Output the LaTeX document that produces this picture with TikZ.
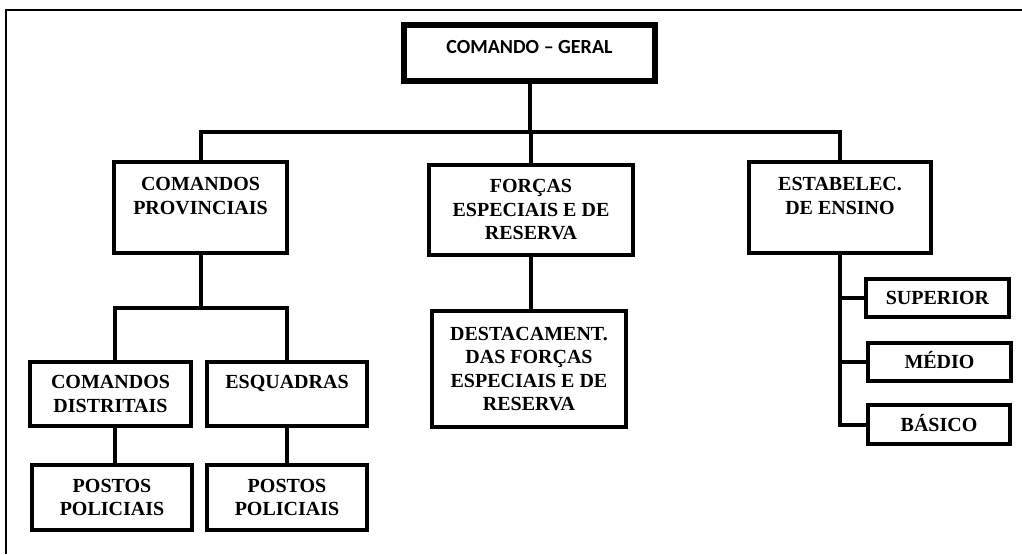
\documentclass[tikz,border=0pt]{standalone}
\usepackage{fontspec}
\setmainfont{Liberation Serif}
\newfontfamily\calib{Carlito}
\begin{document}
\begin{tikzpicture}[x=1pt,y=-1pt,
  box/.style={draw, line width=4.5pt, inner sep=0pt, align=center,
    font=\bfseries\fontsize{20}{23.5}\selectfont},
  smallbox/.style={box, line width=4pt, text height=13.5pt, text depth=0pt},
  conn/.style={line width=4pt},
  frame/.style={line width=2pt}]
\useasboundingbox (0,0) rectangle (1022,554);
\draw[frame] (1022,10) -- (6,10) -- (6,554);

\node[box, line width=6.5pt, minimum width=251pt, minimum height=56pt,
  font=\calib\bfseries\fontsize{20}{24}\selectfont,
  text height=13pt, text depth=12pt] (cg) at (529.5,53) {COMANDO – GERAL};

\node[box, minimum width=173pt, minimum height=91pt] (cp) at (200.5,207.5) {COMANDOS\\PROVINCIAIS\\\mbox{}};
\node[box, minimum width=204pt, minimum height=90pt] (fe) at (531,210) {FORÇAS\\ESPECIAIS E DE\\RESERVA};
\node[box, minimum width=182pt, minimum height=91pt] (ee) at (840,207.5) {ESTABELEC.\\DE ENSINO\\\mbox{}};

\node[box, minimum width=161pt, minimum height=64pt] (cd) at (110.5,394) {COMANDOS\\DISTRITAIS};
\node[box, minimum width=160pt, minimum height=64pt] (esq) at (287,394) {ESQUADRAS\\\mbox{}};
\node[box, minimum width=160pt, minimum height=65pt] (pp1) at (112,497.5) {POSTOS\\POLICIAIS};
\node[box, minimum width=160pt, minimum height=65pt] (pp2) at (287,497.5) {POSTOS\\POLICIAIS};

\node[box, minimum width=194pt, minimum height=116pt] (de) at (529,369) {DESTACAMENT.\\DAS FORÇAS\\ESPECIAIS E DE\\RESERVA};

\node[smallbox, minimum width=143pt, minimum height=38pt] (sup) at (937.5,298) {SUPERIOR};
\node[smallbox, minimum width=143pt, minimum height=38pt] (med) at (939.5,362) {MÉDIO};
\node[smallbox, minimum width=142pt, minimum height=39pt] (bas) at (939,424.5) {BÁSICO};

\coordinate (bus) at (530,132);
\draw[conn] (cg.south) -- (cg.south |- bus);
\draw[conn] (cp.north) |- (bus) -| (ee.north);
\draw[conn] (fe.north) -- (fe.north |- bus);

\coordinate (bus2) at (200,308);
\draw[conn] (cp.south) -- (cp.south |- bus2);
\draw[conn] ([xshift=4.5pt]cd.north) |- (bus2) -| (esq.north);
\draw[conn] ([xshift=4.5pt]cd.south) -- ([xshift=4.5pt]cd.south |- pp1.north);
\draw[conn] (esq.south) -- (esq.south |- pp2.north);

\draw[conn] (fe.south) -- (fe.south |- de.north);

\draw[conn] (ee.south) |- (bas.west);
\draw[conn] (ee.south |- sup.west) -- (sup.west);
\draw[conn] (ee.south |- med.west) -- (med.west);
\end{tikzpicture}
\end{document}
